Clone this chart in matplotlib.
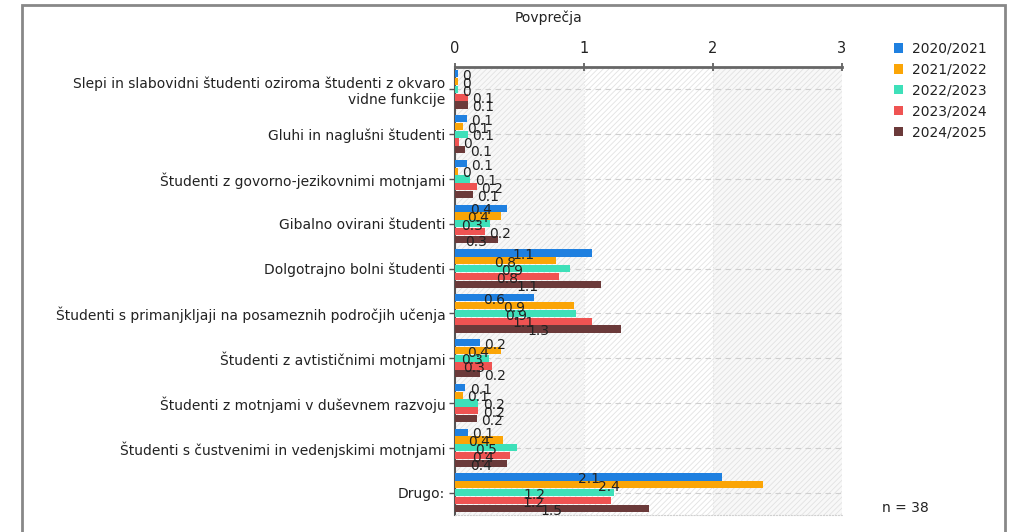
import matplotlib
matplotlib.use("Agg")
import matplotlib.pyplot as plt
import numpy as np
from matplotlib.patches import Rectangle

# data
categories = [
    "Slepi in slabovidni študenti oziroma študenti z okvaro\nvidne funkcije",
    "Gluhi in naglušni študenti",
    "Študenti z govorno-jezikovnimi motnjami",
    "Gibalno ovirani študenti",
    "Dolgotrajno bolni študenti",
    "Študenti s primanjkljaji na posameznih področjih učenja",
    "Študenti z avtističnimi motnjami",
    "Študenti z motnjami v duševnem razvoju",
    "Študenti s čustvenimi in vedenjskimi motnjami",
    "Drugo:",
]
years = ["2020/2021", "2021/2022", "2022/2023", "2023/2024", "2024/2025"]
v2020 = [0.02, 0.09, 0.09, 0.40, 1.06, 0.61, 0.19, 0.08, 0.10, 2.07]
v2021 = [0.02, 0.06, 0.02, 0.36, 0.78, 0.92, 0.36, 0.06, 0.37, 2.39]
v2022 = [0.02, 0.10, 0.12, 0.27, 0.89, 0.94, 0.26, 0.18, 0.48, 1.23]
v2023 = [0.10, 0.03, 0.17, 0.23, 0.81, 1.06, 0.29, 0.18, 0.43, 1.21]
v2024 = [0.10, 0.08, 0.14, 0.33, 1.13, 1.29, 0.19, 0.17, 0.40, 1.50]
series = [v2020, v2021, v2022, v2023, v2024]
colors = ["#1f80e0", "#fba506", "#3ee0b9", "#ef5352", "#6b3a3a"]
x_ticks = [0, 1, 2, 3]
n_label = "n = 38"

fig = plt.figure(figsize=(10.18, 5.32), dpi=100)
ax = fig.add_axes([455 / 1018, 1 - 515 / 532, 387 / 1018, 448 / 532])

plt.rcParams["hatch.linewidth"] = 0.6
# banded, hatched background
for k, x0 in enumerate(x_ticks[:-1]):
    ax.axvspan(x0, x0 + 1, facecolor="#f8f8f8" if k % 2 == 0 else "#ffffff",
               edgecolor="#e2e2e2", hatch="//////", linewidth=0, zorder=0)

y = np.arange(len(categories))
step = 0.175
for j, (vals, col, lab) in enumerate(zip(series, colors, years)):
    ys = y + (j - 2) * step
    ax.barh(ys, vals, height=0.16, color=col, label=lab, zorder=3)
    for yy, v in zip(ys, vals):
        txt = f"{round(v, 1):g}"
        if v >= 0.25:
            ax.text(v / 2, yy + 0.05, txt, ha="center", va="center",
                    fontsize=10, color="#222222", zorder=4)
        else:
            ax.text(v + 0.035, yy + 0.05, txt, ha="left", va="center",
                    fontsize=10, color="#222222", zorder=4)

for yy in y:
    ax.axhline(yy, color="#cfcfcf", lw=0.8, ls=(0, (5, 4)), zorder=1)
for xx in x_ticks[1:-1]:
    ax.axvline(xx, color="#e4e4e4", lw=0.8, ls=":", zorder=1)

ax.set_xlim(0, 3)
ax.set_ylim(len(categories) - 0.5, -0.5)
ax.set_xticks(x_ticks)
ax.xaxis.tick_top()
ax.tick_params(axis="x", direction="inout", length=6, width=1.2, colors="#555555",
               labelcolor="#222222", labelsize=10.5, pad=5)
ax.set_yticks(y)
ax.set_yticklabels(categories, fontsize=10, color="#222222")
ax.tick_params(axis="y", length=4, width=1, colors="#555555", labelcolor="#222222", pad=3)

ax.spines["right"].set_visible(False)
ax.spines["top"].set_color("#666666")
ax.spines["top"].set_linewidth(2)
ax.spines["left"].set_color("#555555")
ax.spines["left"].set_linewidth(1.5)
ax.spines["bottom"].set_color("#d0d0d0")
ax.spines["bottom"].set_linestyle(":")

fig.text(548 / 1018, 1 - 18 / 532, "Povprečja", ha="center", va="center",
         fontsize=10, color="#222222")

leg = fig.legend(loc="upper left", bbox_to_anchor=(888 / 1018, 1 - 36 / 532),
                 frameon=False, fontsize=10, handlelength=0.7, handleheight=0.7,
                 handletextpad=0.6, labelspacing=0.5, borderaxespad=0)
for t in leg.get_texts():
    t.set_color("#222222")

fig.text(882 / 1018, 1 - 508 / 532, n_label, ha="left", va="center",
         fontsize=10, color="#222222")

# outer frame
fig.patches.append(Rectangle((22 / 1018, -0.05), (1005 - 22) / 1018, 1 - 5 / 532 + 0.05,
                             transform=fig.transFigure, fill=False,
                             edgecolor="#888888", lw=2))

fig.savefig("out.png", dpi=100)
